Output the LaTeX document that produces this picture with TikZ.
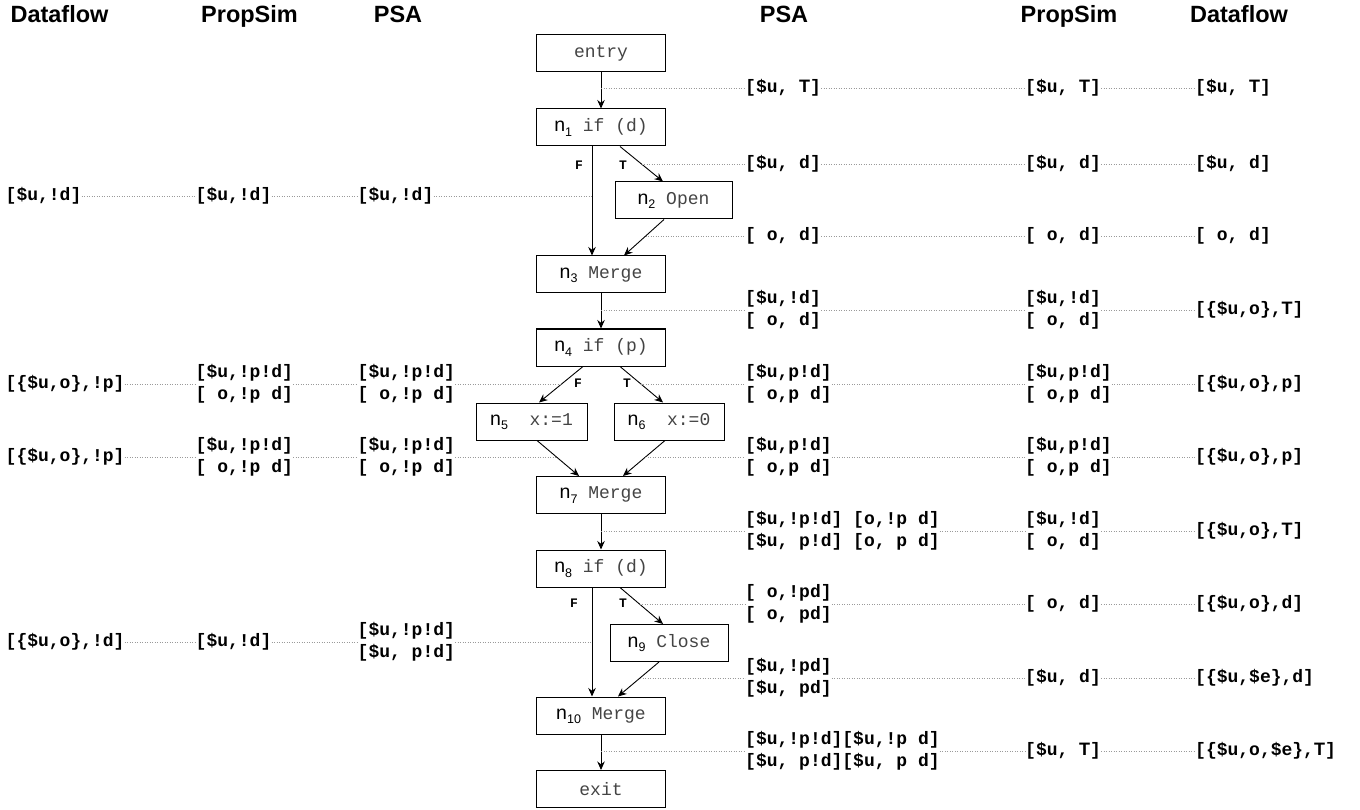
\documentclass[tikz,border=0pt]{standalone}
\usepackage{fontspec}
\setmainfont{Liberation Sans}
\newfontfamily\monof{Liberation Mono}
\usetikzlibrary{arrows.meta}
\definecolor{codegray}{HTML}{444444}
\definecolor{dotgray}{HTML}{9A9A9A}
\newcommand\sT{{\rmfamily T}}
\newcommand\nsub[1]{\raisebox{-4.5pt}{\fontsize{12.5}{14}\selectfont #1}}
\newcommand\nlab[2]{n\nsub{#1}{\monof\fontsize{18}{20}\selectfont\color{codegray}\ #2}}
\newcommand\code[1]{{\monof\fontsize{18}{20}\selectfont\color{codegray}#1}}
\begin{document}
\begin{tikzpicture}[x=1pt,y=-1pt,
  box/.style={draw, line width=1pt, minimum width=129pt, minimum height=37pt, inner sep=0pt, font=\fontsize{19.5}{22}\selectfont},
  hdr/.style={anchor=base, font=\bfseries\fontsize{23.5}{26}\selectfont, inner sep=0pt},
  lbl/.style={anchor=west, inner sep=0pt, align=left, font=\monof\bfseries\fontsize{18}{22}\selectfont},
  ft/.style={inner sep=0pt, font=\monof\bfseries\fontsize{13}{15}\selectfont},
  arr/.style={draw, line width=0.9pt, -{Stealth[length=8.5pt,width=7.5pt]}},
  dots/.style={draw=dotgray, line width=0.9pt, dash pattern=on 0.9pt off 1.6pt}]
\fill[white] (0,0) rectangle (1360,810);
\useasboundingbox (0,0) rectangle (1360,810);

% headers
\node[hdr] (hdL) at (59.5,23) {Dataflow};
\node[hdr] (hpL) at (249.5,23) {PropSim};
\node[hdr] (haL) at (398,23) {PSA};
\node[hdr] (haR) at (784,23) {PSA};
\node[hdr] (hpR) at (1069,23) {PropSim};
\node[hdr] (hdR) at (1239,23) {Dataflow};

% CFG nodes
\node[box] (entry) at (601,53.5) {\code{entry}};
\node[box] (n1) at (601,127.5) {\nlab{1}{if (d)}};
\node[box, minimum width=117pt] (n2) at (673.5,200.5) {\nlab{2}{Open}};
\node[box] (n3) at (601,274.5) {\nlab{3}{Merge}};
\node[box] (n4) at (601,347.5) {\nlab{4}{if (p)}};
\node[box, minimum width=111pt] (n5) at (531.5,421.5) {\nlab{5}{\ x:=1}};
\node[box, minimum width=110pt] (n6) at (669,421.5) {\nlab{6}{\ x:=0}};
\node[box] (n7) at (601,495) {\nlab{7}{Merge}};
\node[box] (n8) at (601,568.5) {\nlab{8}{if (d)}};
\node[box, minimum width=118pt] (n9) at (669,643) {\nlab{9}{Close}};
\node[box] (n10) at (601,715.5) {\nlab{10}{Merge}};
\node[box] (exit) at (601,789) {\code{exit}};

% CFG edges
\draw[arr] (entry) -- (n1);
\draw[arr] ([xshift=-9pt]n1.south) -- ([xshift=-9pt]n3.north);
\draw[arr] ([xshift=19pt]n1.south) -- ([xshift=-10.5pt]n2.north);
\draw[arr] ([xshift=-9.5pt]n2.south) -- ([xshift=23pt]n3.north);
\draw[arr] (n3) -- (n4);
\draw[arr] ([xshift=-18pt]n4.south) -- ([xshift=7.5pt]n5.north);
\draw[arr] ([xshift=19pt]n4.south) -- ([xshift=-6pt]n6.north);
\draw[arr] ([xshift=5.5pt]n5.south) -- ([xshift=-22pt]n7.north);
\draw[arr] ([xshift=-4pt]n6.south) -- ([xshift=22pt]n7.north);
\draw[arr] (n7) -- (n8);
\draw[arr] ([xshift=-9pt]n8.south) -- ([xshift=-9pt]n10.north);
\draw[arr] ([xshift=19pt]n8.south) -- ([xshift=-6pt]n9.north);
\draw[arr] ([xshift=-10pt]n9.south) -- ([xshift=17pt]n10.north);
\draw[arr] (n10) -- (exit);

% branch labels
\node[ft] (f1) at (579,165) {F};
\node[ft] (t1) at (623,165) {T};
\node[ft] (f4) at (578,383) {F};
\node[ft] (t4) at (627,383) {T};
\node[ft] (f8) at (574,603) {F};
\node[ft] (t8) at (623,603) {T};

% points on edges
\coordinate (cR1) at (601,88);
\coordinate (cR2) at (641.5,164);
\coordinate (cR3) at (645.6,236);
\coordinate (cR4) at (601,310);
\coordinate (cR5) at (640.9,384);
\coordinate (cR6) at (645.4,457);
\coordinate (cR7) at (601,531);
\coordinate (cR8) at (639.5,604);
\coordinate (cR9) at (640,678);
\coordinate (cR10) at (601,751);
\coordinate (cL1) at (592,196);
\coordinate (cL2) at (561.6,384);
\coordinate (cL3) at (556.6,457);
\coordinate (cL4) at (592,642);

% right labels
\node[lbl] (aR1) at (745,88) {[\$u, \sT]};
\node[lbl] (pR1) at (1025,88) {[\$u, \sT]};
\node[lbl] (dR1) at (1195,88) {[\$u, \sT]};
\node[lbl] (aR2) at (745,164) {[\$u, d]};
\node[lbl] (pR2) at (1025,164) {[\$u, d]};
\node[lbl] (dR2) at (1195,164) {[\$u, d]};
\node[lbl] (aR3) at (745,236) {[ o, d]};
\node[lbl] (pR3) at (1025,236) {[ o, d]};
\node[lbl] (dR3) at (1195,236) {[ o, d]};
\node[lbl] (aR4) at (745,310) {[\$u,!d]\\\relax[ o, d]};
\node[lbl] (pR4) at (1025,310) {[\$u,!d]\\\relax[ o, d]};
\node[lbl] (dR4) at (1195,310) {[\{\$u,o\},\sT]};
\node[lbl] (aR5) at (745,384) {[\$u,p!d]\\\relax[ o,p d]};
\node[lbl] (pR5) at (1025,384) {[\$u,p!d]\\\relax[ o,p d]};
\node[lbl] (dR5) at (1195,384) {[\{\$u,o\},p]};
\node[lbl] (aR6) at (745,457) {[\$u,p!d]\\\relax[ o,p d]};
\node[lbl] (pR6) at (1025,457) {[\$u,p!d]\\\relax[ o,p d]};
\node[lbl] (dR6) at (1195,457) {[\{\$u,o\},p]};
\node[lbl] (aR7) at (745,531) {[\$u,!p!d] [o,!p d]\\\relax[\$u, p!d] [o, p d]};
\node[lbl] (pR7) at (1025,531) {[\$u,!d]\\\relax[ o, d]};
\node[lbl] (dR7) at (1195,531) {[\{\$u,o\},\sT]};
\node[lbl] (aR8) at (745,604) {[ o,!pd]\\\relax[ o, pd]};
\node[lbl] (pR8) at (1025,604) {[ o, d]};
\node[lbl] (dR8) at (1195,604) {[\{\$u,o\},d]};
\node[lbl] (aR9) at (745,678) {[\$u,!pd]\\\relax[\$u, pd]};
\node[lbl] (pR9) at (1025,678) {[\$u, d]};
\node[lbl] (dR9) at (1195,678) {[\{\$u,\$e\},d]};
\node[lbl] (aR10) at (745,751) {[\$u,!p!d][\$u,!p d]\\\relax[\$u, p!d][\$u, p d]};
\node[lbl] (pR10) at (1025,751) {[\$u, \sT]};
\node[lbl] (dR10) at (1195,751) {[\{\$u,o,\$e\},\sT]};

% left labels
\node[lbl] (dL1) at (5.5,196) {[\$u,!d]};
\node[lbl] (pL1) at (195.5,196) {[\$u,!d]};
\node[lbl] (aL1) at (357.5,196) {[\$u,!d]};
\node[lbl] (dL2) at (5.5,384) {[\{\$u,o\},!p]};
\node[lbl] (pL2) at (195.5,384) {[\$u,!p!d]\\\relax[ o,!p d]};
\node[lbl] (aL2) at (357.5,384) {[\$u,!p!d]\\\relax[ o,!p d]};
\node[lbl] (dL3) at (5.5,457) {[\{\$u,o\},!p]};
\node[lbl] (pL3) at (195.5,457) {[\$u,!p!d]\\\relax[ o,!p d]};
\node[lbl] (aL3) at (357.5,457) {[\$u,!p!d]\\\relax[ o,!p d]};
\node[lbl] (dL4) at (5.5,642) {[\{\$u,o\},!d]};
\node[lbl] (pL4) at (195.5,642) {[\$u,!d]};
\node[lbl] (aL4) at (357.5,642) {[\$u,!p!d]\\\relax[\$u, p!d]};

% dotted leaders, right
\foreach \r in {R1,R2,R3,R4,R5,R6,R7,R8,R9,R10}{
  \draw[dots] (c\r) -- (a\r.west);
  \draw[dots] (a\r.east) -- (p\r.west);
  \draw[dots] (p\r.east) -- (d\r.west);
}
% dotted leaders, left
\foreach \r in {L1,L2,L3,L4}{
  \draw[dots] (d\r.east) -- (p\r.west);
  \draw[dots] (p\r.east) -- (a\r.west);
  \draw[dots] (a\r.east) -- (c\r);
}
\end{tikzpicture}
\end{document}
